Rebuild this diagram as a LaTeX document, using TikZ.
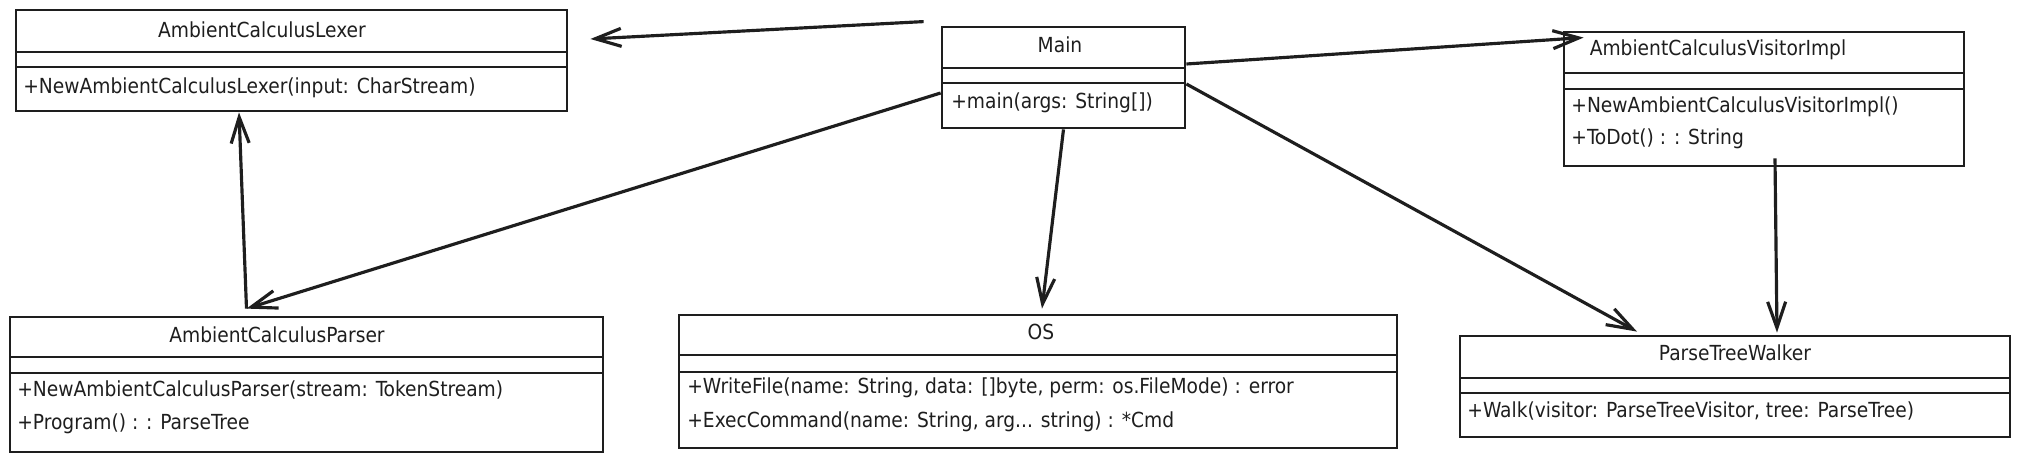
\documentclass[tikz,border=0pt]{standalone}
\usepackage{fontspec}
\setmainfont{DejaVu Sans Condensed}
\usepackage{tikz}
\usetikzlibrary{arrows.meta,positioning,calc,fit}
\definecolor{ink}{HTML}{1E1E1E}

\begin{document}
\begin{tikzpicture}[x=0.2mm, y=-0.2mm,
  every node/.style={font=\fontsize{11.8}{14}\selectfont, text=ink},
  cls/.style={draw=ink, line width=1.6pt, inner sep=0pt},
  sep/.style={draw=ink, line width=1.1pt},
  meth/.style={anchor=west, inner sep=0pt},
  dep/.style={draw=ink, line width=1.8pt, -{Straight Barb[length=5.2mm, width=3.6mm]}}]
\useasboundingbox (0,0) rectangle (2020,461);

% class frames
\node[cls, fit={(16,10) (567,111)}] (lexer) {};
\node[cls, fit={(942,27) (1185,128)}] (main) {};
\node[cls, fit={(1564,32) (1964,166)}] (visitor) {};
\node[cls, fit={(10,317) (603,452)}] (parser) {};
\node[cls, fit={(679,315) (1397,448)}] (os) {};
\node[cls, fit={(1460,336) (2010,437)}] (ptw) {};

% name / attribute / method separators
\foreach \l/\r/\a/\b in {16/567/52/67, 942/1185/68/83, 1564/1964/73/89,
                         10/603/357/373, 679/1397/355/372, 1460/2010/378/393}
  \draw[sep] (\l,\a) -- (\r,\a) (\l,\b) -- (\r,\b);

% class names
\node (lexerName) at (262,30) {AmbientCalculusLexer};
\node (mainName) at (1060,45) {Main};
\node (visitorName) at (1718,50) {AmbientCalculusVisitorImpl};
\node (parserName) at (277,335) {AmbientCalculusParser};
\node (osName) at (1041,332) {OS};
\node (ptwName) at (1735,353) {ParseTreeWalker};

% methods
\node[meth] (lexerM1) at (23,88) {+NewAmbientCalculusLexer(input: CharStream)};
\node[meth] (mainM1) at (951,103) {+main(args: String[])};
\node[meth] (visitorM1) at (1571,107) {+NewAmbientCalculusVisitorImpl()};
\node[meth] (visitorM2) at (1571,139) {+ToDot() : : String};
\node[meth] (parserM1) at (17,390) {+NewAmbientCalculusParser(stream: TokenStream)};
\node[meth] (parserM2) at (17,424) {+Program() : : ParseTree};
\node[meth] (osM1) at (687,388) {+WriteFile(name: String, data: []byte, perm: os.FileMode) : error};
\node[meth] (osM2) at (687,422) {+ExecCommand(name: String, arg... string) : *Cmd};
\node[meth] (ptwM1) at (1467,411) {+Walk(visitor: ParseTreeVisitor, tree: ParseTree)};

% dependencies
\draw[dep] ([xshift=-3.4mm, yshift=0.8mm]main.north west) -- ([xshift=4.4mm, yshift=4.3mm]lexer.east);
\draw[dep] ([yshift=2.7mm]main.east) -- ([xshift=4.2mm, yshift=-1.4mm]visitor.north west);
\draw[dep] ([yshift=-3.1mm]main.west) -- ([xshift=-12mm, yshift=1.4mm]parser.north);
\draw[dep] (main.south) -- ([xshift=0.8mm, yshift=1mm]os.north);
\draw[dep] ([yshift=-1.3mm]main.east) -- ([xshift=-19.6mm, yshift=0.6mm]ptw.north);
\draw[dep] ([xshift=-12mm, yshift=1.4mm]parser.north) -- ([xshift=-10.5mm]lexer.south);
\draw[dep] ([xshift=2.2mm, yshift=1.8mm]visitor.south) -- ([xshift=8.4mm, yshift=0.4mm]ptw.north);
\end{tikzpicture}
\end{document}
